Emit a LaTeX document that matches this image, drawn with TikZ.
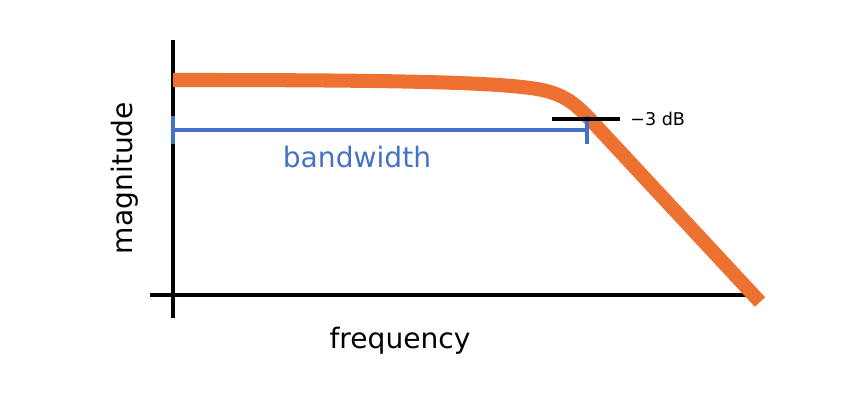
\documentclass[tikz,border=0pt]{standalone}
\usepackage{fontspec}
\setmainfont{DejaVu Sans}
\usepackage{tikz}
\definecolor{curveorange}{RGB}{237,113,48}
\definecolor{bandblue}{RGB}{68,114,196}

\begin{document}
\begin{tikzpicture}[x=0.02cm, y=-0.02cm,
    axis/.style={line width=2.2pt, black},
    label/.style={inner sep=0pt, font=\fontsize{16}{18}\selectfont}]
    \useasboundingbox (0,0) rectangle (850,408);

    \coordinate (ytop) at (173,40);
    \coordinate (ybot) at (173,318);
    \coordinate (xleft) at (150,295);
    \coordinate (xright) at (760,295);
    \draw[axis] (ytop) -- (ybot);
    \draw[axis] (xleft) -- (xright);

    \node[label, rotate=90] at (125,178) (mag) {magnitude};
    \node[label] at (400,341) (freq) {frequency};

    % response curve
    \coordinate (c0) at (173,80);
    \coordinate (c1) at (760,302);
    \draw[curveorange, line width=8pt] (c0) .. controls (400,80) and (520,82) .. (550,92)
        .. controls (570,98) and (580,108) .. (600,130) -- (c1);

    % bandwidth
    \coordinate (bl) at (173,130);
    \coordinate (br) at (587,130);
    \draw[bandblue, line width=1.8pt] (bl) -- (br);
    \draw[bandblue, line width=1.8pt] ([yshift=-8]bl) -- ([yshift=8]bl);
    \draw[bandblue, line width=1.8pt] ([yshift=-8]br) -- ([yshift=8]br);
    \node[label, text=bandblue] at (357,157) (bw) {bandwidth};

    % -3 dB marker
    \coordinate (ml) at (552,119);
    \coordinate (mr) at (620,119);
    \draw[line width=1.8pt] (ml) -- (mr);
    \node[inner sep=0pt, anchor=west, font=\fontsize{10}{12}\selectfont] at (630,119) (db) {−3 dB};
\end{tikzpicture}
\end{document}
